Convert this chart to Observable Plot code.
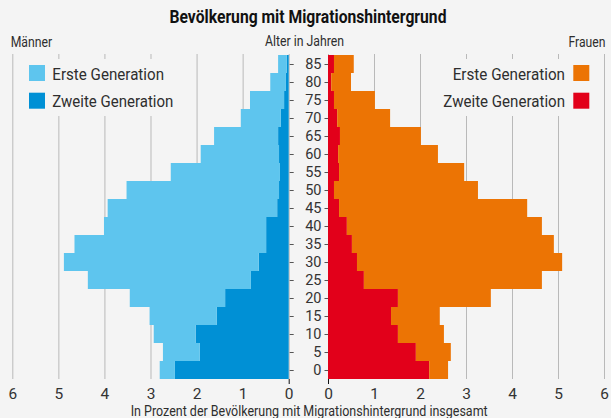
<!DOCTYPE html>
<html>
<head>
<meta charset="utf-8">
<script src="https://cdn.jsdelivr.net/npm/d3@7"></script>
<script src="https://cdn.jsdelivr.net/npm/@observablehq/plot@0.6"></script>
<style>
  html, body { margin: 0; padding: 0; background: #f4f4f4; }
  #chart { position: relative; width: 611px; height: 418px; background: #f4f4f4; overflow: hidden; }
  #chart > svg { position: absolute; left: 0; top: 0; }
</style>
</head>
<body>
<div id="chart"></div>
<script>
// ---- data ----
const ages = [0, 5, 10, 15, 20, 25, 30, 35, 40, 45, 50, 55, 60, 65, 70, 75, 80, 85];
const menSecond   = [2.47, 1.93, 2.02, 1.56, 1.38, 0.82, 0.65, 0.49, 0.49, 0.25, 0.21, 0.19, 0.21, 0.23, 0.17, 0.10, 0.06, 0.04];
const menFirst    = [0.33, 0.80, 0.91, 1.46, 2.07, 3.54, 4.23, 4.16, 3.52, 3.68, 3.31, 2.37, 1.70, 1.39, 0.87, 0.74, 0.34, 0.19];
const womenSecond = [2.20, 1.91, 1.52, 1.37, 1.52, 0.78, 0.63, 0.52, 0.41, 0.24, 0.13, 0.24, 0.22, 0.26, 0.20, 0.13, 0.07, 0.13];
const womenFirst  = [0.41, 0.76, 1.00, 1.06, 2.02, 3.87, 4.46, 4.39, 4.24, 4.09, 3.13, 2.72, 2.17, 1.76, 1.15, 0.89, 0.43, 0.43];
const xTicks = [0, 1, 2, 3, 4, 5, 6];
const generations = ["Zweite Generation", "Erste Generation"];

const title = "Bevölkerung mit Migrationshintergrund";
const caption = "In Prozent der Bevölkerung mit Migrationshintergrund insgesamt";

const menColors = {"Erste Generation": "#5ec5ee", "Zweite Generation": "#0090d5"};
const womenColors = {"Erste Generation": "#ec7404", "Zweite Generation": "#e2001a"};

function rows(second, first) {
  const out = [];
  ages.forEach((a, i) => {
    out.push({age: a, gen: "Zweite Generation", value: second[i]});
    out.push({age: a, gen: "Erste Generation", value: first[i]});
  });
  return out;
}
const menRows = rows(menSecond, menFirst);
const womenRows = rows(womenSecond, womenFirst);

const W = 611, H = 418;
const common = {
  width: W, height: H, marginTop: 54, marginBottom: 39,
  style: {background: "transparent", fontFamily: "Roboto, sans-serif", fontSize: "15px", color: "#333", overflow: "visible", fontWeight: 400}
};
const yScale = {domain: ages.slice().reverse(), type: "band", padding: 0, label: null};
const grid = "#b9b9b9";
const fmt = d => String(d);

const left = Plot.plot({
  ...common,
  marginLeft: 12.3, marginRight: W - 288.7,
  x: {domain: [0, 6], reverse: true, label: null},
  y: yScale,
  color: {domain: generations, range: generations.map(g => menColors[g])},
  marks: [
    Plot.gridX(xTicks, {stroke: grid, strokeOpacity: 1}),
    Plot.barX(menRows, {x: "value", y: "age", fill: "gen", order: generations}),
    Plot.axisX({ticks: xTicks, tickSize: 0, tickPadding: 8, fontSize: 15.5, tickFormat: fmt, label: null}),
    Plot.axisX({ticks: [0], tickSize: 5, tickFormat: () => "", stroke: "#111", label: null}),
    Plot.axisY({anchor: "right", tickSize: 4, tickFormat: () => "", stroke: "#555", label: null})
  ]
});

const right = Plot.plot({
  ...common,
  marginLeft: 328, marginRight: W - 604,
  x: {domain: [0, 6], label: null},
  y: yScale,
  color: {domain: generations, range: generations.map(g => womenColors[g])},
  marks: [
    Plot.gridX(xTicks, {stroke: grid, strokeOpacity: 1}),
    Plot.barX(womenRows, {x: "value", y: "age", fill: "gen", order: generations}),
    Plot.axisX({ticks: xTicks, tickSize: 0, tickPadding: 8, fontSize: 15.5, tickFormat: fmt, label: null}),
    Plot.axisX({ticks: [0], tickSize: 5, tickFormat: () => "", stroke: "#111", label: null}),
    Plot.axisY({anchor: "left", tickSize: 3.5, tickPadding: 3.5, fontSize: 14.5, tickFormat: fmt, stroke: "#555", label: null})
  ]
});

const chart = document.getElementById("chart");
chart.appendChild(left);
chart.appendChild(right);

// ---- overlay: titles, legends, caption ----
const svg = d3.create("svg").attr("width", W).attr("height", H)
  .style("font-family", "Roboto, sans-serif");

function txt(s, x, y, size, len, opts = {}) {
  svg.append("text").attr("x", x).attr("y", y)
    .attr("font-size", size).attr("fill", opts.fill || "#2e2e2e")
    .attr("font-weight", opts.weight || 400)
    .attr("text-anchor", opts.anchor || "start")
    .attr("textLength", len).attr("lengthAdjust", "spacingAndGlyphs")
    .text(s);
}

// legend background boxes (cover gridlines)
svg.append("rect").attr("x", 20).attr("y", 59).attr("width", 160).attr("height", 57).attr("fill", "#f4f4f4");
svg.append("rect").attr("x", 433).attr("y", 59).attr("width", 163).attr("height", 57).attr("fill", "#f4f4f4");

txt(title, 169.5, 23, 17.5, 277, {weight: 700, fill: "#111"});
txt("Männer", 10.7, 47, 14, 41.5);
txt("Alter in Jahren", 265, 46, 14, 79);
txt("Frauen", 605.5, 47, 14, 37, {anchor: "end"});
txt(caption, 130.7, 416, 14, 357);

// legends
const legendItems = ["Erste Generation", "Zweite Generation"];
const legY = [65, 92.7];
const legBase = [80, 107];
const leftLen = [111.7, 121];
const rightStart = [452.7, 443.3];
legendItems.forEach((g, i) => {
  svg.append("rect").attr("x", 29).attr("y", legY[i]).attr("width", 16).attr("height", 16).attr("fill", menColors[g]);
  txt(g, 52.3, legBase[i], 16.5, leftLen[i]);
  svg.append("rect").attr("x", 573.3).attr("y", legY[i]).attr("width", 16).attr("height", 16).attr("fill", womenColors[g]);
  txt(g, rightStart[i], legBase[i], 16.5, 565 - rightStart[i]);
});

chart.appendChild(svg.node());
</script>
</body>
</html>
